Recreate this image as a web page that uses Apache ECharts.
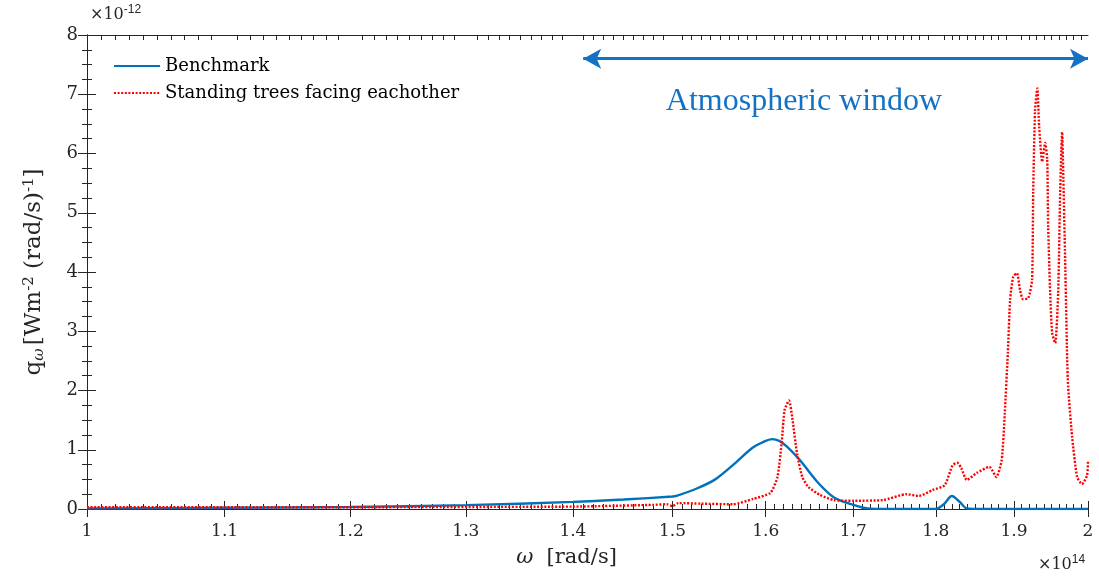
<!DOCTYPE html>
<html>
<head>
<meta charset="utf-8">
<title>q_omega spectrum</title>
<script src="https://cdn.jsdelivr.net/npm/echarts@6/dist/echarts.min.js"></script>
<style>
  html, body { margin: 0; padding: 0; background: #fff; }
  #chart { width: 1099px; height: 579px; }
</style>
</head>
<body>
<div id="chart"></div>
<script>
// omega in units of 1e14 rad/s, q in units of 1e-12 W m^-2 (rad/s)^-1
const benchOmega = [1.0, 1.1, 1.2, 1.3, 1.4, 1.45, 1.5, 1.504, 1.526, 1.545, 1.564, 1.585, 1.597, 1.607,
  1.615, 1.624, 1.638, 1.658, 1.677, 1.7, 1.717, 1.74, 1.8, 1.81, 1.82, 1.83, 1.839, 1.86, 2.0]
const benchQ = [0.01, 0.02, 0.035, 0.065, 0.12, 0.16, 0.21, 0.22, 0.35, 0.5, 0.74, 1.03, 1.13, 1.18,
  1.15, 1.05, 0.83, 0.46, 0.2, 0.07, 0.01, 0, 0, 0.08, 0.22, 0.12, 0.01, 0, 0]

const treesOmega = [1.0, 1.2, 1.4, 1.43, 1.48, 1.494, 1.5, 1.506, 1.53, 1.564, 1.586, 1.605, 1.613, 1.618,
  1.621, 1.626, 1.63, 1.635, 1.641, 1.648, 1.661, 1.677, 1.7, 1.735, 1.764, 1.779, 1.796, 1.811, 1.821,
  1.827, 1.832, 1.839, 1.852, 1.868, 1.877, 1.884, 1.888, 1.892, 1.895, 1.899, 1.904, 1.908, 1.912,
  1.919, 1.924, 1.9255, 1.928, 1.931, 1.9335, 1.9376, 1.9416, 1.9443, 1.9456, 1.9483, 1.951, 1.9551,
  1.9591, 1.9618, 1.9645, 1.9659, 1.9686, 1.9713, 1.9727, 1.9781, 1.985, 1.9918, 1.9987, 2.0]
const treesQ = [0.03, 0.03, 0.04, 0.05, 0.07, 0.08, 0.05, 0.1, 0.09, 0.08, 0.17, 0.27, 0.54, 1.16,
  1.67, 1.83, 1.5, 0.94, 0.54, 0.37, 0.24, 0.15, 0.14, 0.15, 0.25, 0.22, 0.32, 0.4, 0.74,
  0.78, 0.69, 0.49, 0.61, 0.71, 0.54, 0.83, 1.62, 2.63, 3.53, 3.92, 3.98, 3.7, 3.54,
  3.56, 3.87, 5.33, 6.73, 7.1, 6.45, 5.86, 6.18, 5.9, 4.76, 3.65, 2.97, 2.8,
  3.65, 5.33, 6.36, 5.72, 4.2, 2.57, 2.06, 1.22, 0.54, 0.42, 0.57, 0.8]

const xMajorTicks = [1, 1.1, 1.2, 1.3, 1.4, 1.5, 1.6, 1.7, 1.8, 1.9, 2]
const windowStart = 1.41
const windowEnd = 2.0

// log axis drawn on a value axis: positions are log10(omega)
const lg = v => Math.log10(v)
const xMinor = []
for (let i = 100; i <= 200; i++) { if (i % 10 !== 0) xMinor.push(lg(i / 100)) }
const xMajor = xMajorTicks.map(lg)

const axisColor = '#262626'
const serif = 'DejaVu Serif'
const gridRect = { left: 87, right: 11, top: 35, bottom: 70 }

function xAxisDef (gridIndex, position, ticks, len, withLabel) {
  return {
    type: 'value',
    gridIndex: gridIndex,
    position: position,
    min: 0,
    max: lg(2),
    axisLine: { show: true, lineStyle: { color: axisColor, width: 1 } },
    axisTick: { show: true, inside: true, length: len, customValues: ticks, lineStyle: { color: axisColor, width: 1 } },
    axisLabel: withLabel
      ? {
          show: true,
          customValues: ticks,
          color: axisColor,
          fontFamily: serif,
          fontSize: 17,
          margin: 14,
          formatter: v => String(Math.round(Math.pow(10, v) * 10) / 10)
        }
      : { show: false },
    splitLine: { show: false }
  }
}

function yAxisDef (position, withLabel) {
  return {
    type: 'value',
    gridIndex: 0,
    min: 0,
    max: 8,
    interval: 1,
    position: position,
    axisLine: { show: true, lineStyle: { color: axisColor } },
    axisTick: { show: true, inside: true, length: 9, lineStyle: { color: axisColor } },
    minorTick: { show: true, splitNumber: 4, length: 5, lineStyle: { color: axisColor } },
    axisLabel: withLabel ? { color: axisColor, fontFamily: serif, fontSize: 18, margin: 9 } : { show: false },
    splitLine: { show: false }
  }
}

const option = {
  animation: false,
  grid: [Object.assign({}, gridRect), Object.assign({}, gridRect)],
  legend: {
    orient: 'vertical',
    left: 108,
    top: 52,
    itemWidth: 46,
    itemHeight: 14,
    itemGap: 9,
    itemStyle: { opacity: 0 },
    textStyle: { fontFamily: serif, fontSize: 18, color: '#000' },
    data: ['Benchmark', 'Standing trees facing eachother']
  },
  xAxis: [
    Object.assign(xAxisDef(0, 'bottom', xMajor, 8, true), {
      name: '{i|ω}  [rad/s]',
      nameLocation: 'middle',
      nameGap: 38,
      nameTextStyle: {
        fontFamily: serif, fontSize: 21, color: axisColor, padding: [0, 42, 0, 0],
        rich: { i: { fontFamily: serif, fontStyle: 'italic', fontSize: 21, color: axisColor } }
      }
    }),
    xAxisDef(0, 'top', xMajor, 8, false),
    xAxisDef(1, 'bottom', xMinor, 5, false),
    xAxisDef(1, 'top', xMinor, 5, false)
  ],
  yAxis: [
    Object.assign(yAxisDef('left', true), {
      name: '{n|q}{sub|ω} {n|[Wm}{sup|-2}{n| (rad/s)}{sup|-1}{n|]}',
      nameLocation: 'middle',
      nameGap: 40,
      nameRotate: 90,
      nameTextStyle: {
        rich: {
          n: { fontFamily: serif, fontSize: 23, color: axisColor },
          sub: { fontFamily: serif, fontStyle: 'italic', fontSize: 15, color: axisColor, verticalAlign: 'bottom', padding: [10, 0, 0, 0] },
          sup: { fontFamily: serif, fontSize: 15, color: axisColor, verticalAlign: 'top', padding: [0, 0, 10, 0] }
        }
      }
    }),
    yAxisDef('right', false),
    { type: 'value', gridIndex: 1, min: 0, max: 8, show: false }
  ],
  graphic: [
    {
      type: 'text',
      left: 90,
      top: 4,
      style: {
        text: '×10{sup|-12}',
        fontFamily: serif,
        fontSize: 16,
        fill: axisColor,
        rich: { sup: { fontSize: 12, fill: axisColor, verticalAlign: 'top', padding: [0, 0, 10, 0] } }
      }
    },
    {
      type: 'text',
      left: 1038,
      top: 554,
      style: {
        text: '×10{sup|14}',
        fontFamily: serif,
        fontSize: 16,
        fill: axisColor,
        rich: { sup: { fontSize: 12, fill: axisColor, verticalAlign: 'top', padding: [0, 0, 10, 0] } }
      }
    },
    {
      type: 'text',
      x: 804,
      y: 102,
      style: {
        text: 'Atmospheric window',
        fontFamily: 'Liberation Serif',
        fontSize: 32,
        fill: '#1472C4',
        align: 'center',
        verticalAlign: 'middle'
      }
    }
  ],
  series: [
    {
      name: 'Benchmark',
      type: 'line',
      xAxisIndex: 0,
      yAxisIndex: 0,
      symbol: 'none',
      smooth: 0.3,
      color: '#0072BD',
      lineStyle: { width: 2.4, color: '#0072BD' },
      data: benchOmega.map((w, i) => [lg(w), benchQ[i]]),
      z: 3
    },
    {
      name: 'Standing trees facing eachother',
      type: 'line',
      xAxisIndex: 0,
      yAxisIndex: 0,
      symbol: 'none',
      smooth: 0.2,
      color: '#FF0000',
      lineStyle: { width: 2.4, color: '#FF0000', type: [2, 1.6] },
      data: treesOmega.map((w, i) => [lg(w), treesQ[i]]),
      z: 4,
      markLine: {
        silent: true,
        symbol: ['arrow', 'arrow'],
        symbolSize: [15, 18],
        label: { show: false },
        lineStyle: { color: '#1472C4', width: 3, type: 'solid' },
        data: [[{ coord: [lg(windowStart), 7.6] }, { coord: [lg(windowEnd), 7.6] }]]
      }
    }
  ]
}

const chart = echarts.init(document.getElementById('chart'))
chart.setOption(option)
</script>
</body>
</html>
